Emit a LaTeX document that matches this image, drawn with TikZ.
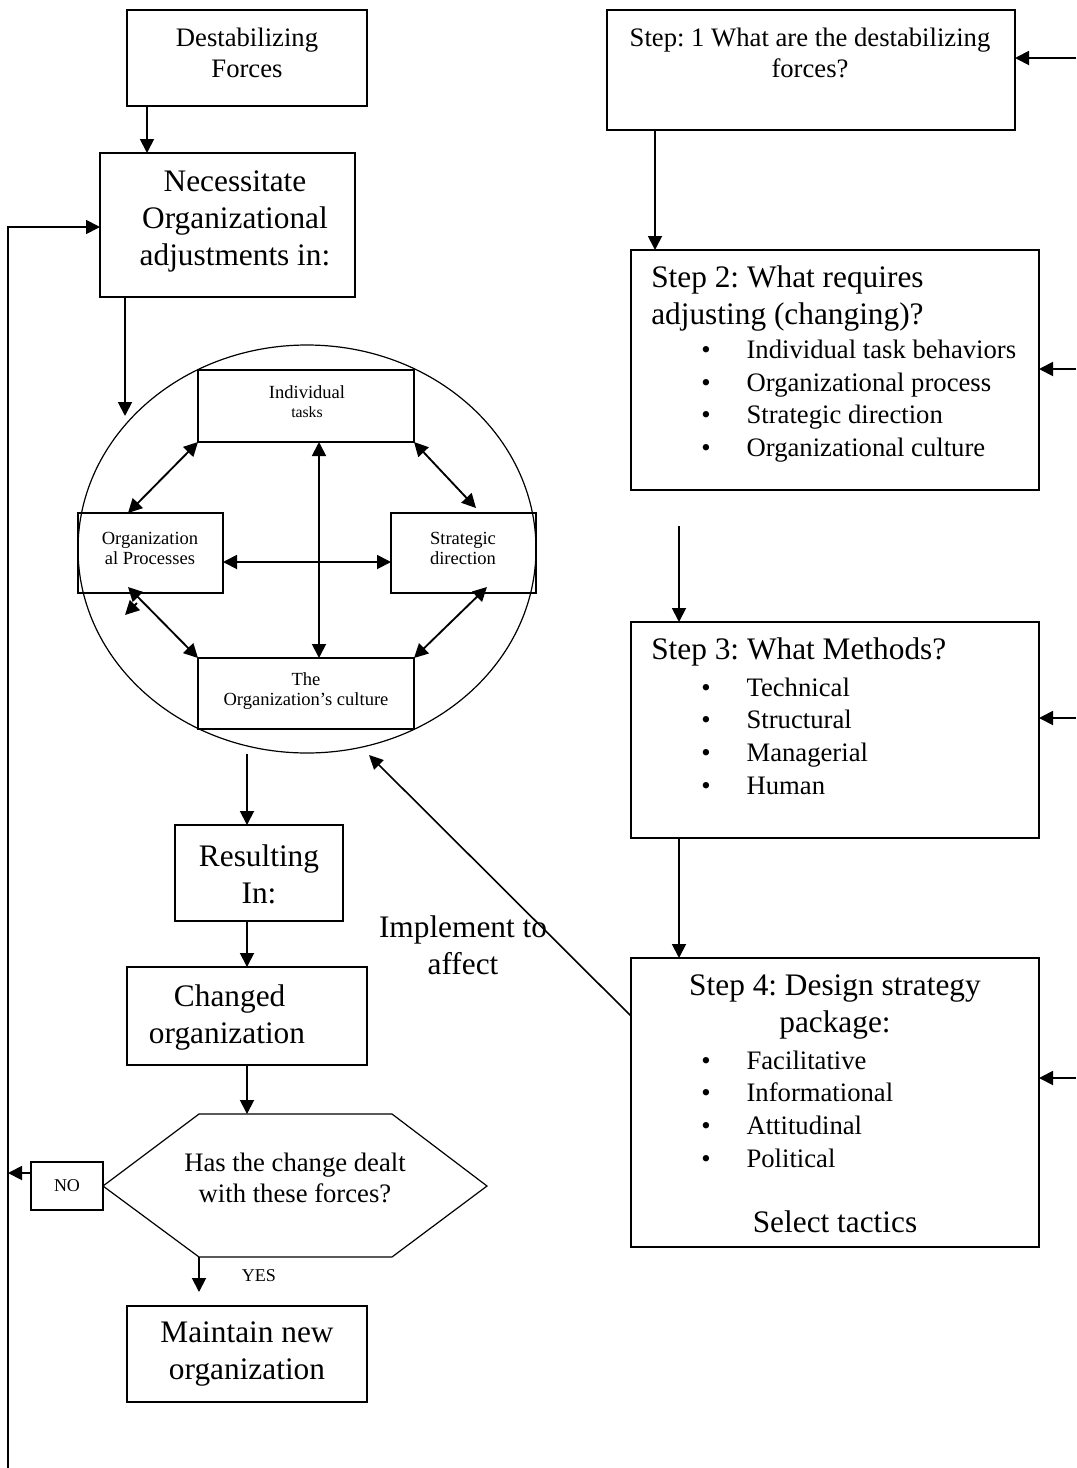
\documentclass[tikz,border=0pt]{standalone}
\usepackage{fontspec}
\setmainfont{Liberation Serif}
\usetikzlibrary{arrows.meta,calc,shapes.geometric}
\frenchspacing

\newcommand\fM{\fontsize{20}{23.25}\selectfont}
\newcommand\fL{\fontsize{23.5}{27.75}\selectfont}
\newcommand\fB{\fontsize{20}{24.5}\selectfont}
\newcommand\fS{\fontsize{13.9}{15}\selectfont}
\newcommand\fT{\fontsize{11.8}{13}\selectfont}
\newcommand\fX{\fontsize{13.5}{15}\selectfont}
\newcommand\bul{\makebox[34pt][l]{\textbullet}}

\tikzset{
  box/.style={draw, line width=1.3pt, inner sep=0pt, outer sep=0pt},
  ibox/.style={draw, line width=1.1pt, inner sep=0pt, outer sep=0pt},
  arr/.style={line width=1.4pt, -{Triangle[length=10.5pt,width=10.5pt]}},
  tarr/.style={line width=1.2pt, -{Triangle[length=10.5pt,width=10pt]}},
  darr/.style={line width=1.4pt, {Triangle[length=10.5pt,width=10.5pt]}-{Triangle[length=10.5pt,width=10.5pt]}},
  txt/.style={inner sep=0pt, align=center},
  ltxt/.style={inner sep=0pt, align=left, anchor=west},
}
\newcommand\mkbox[6][box]{\node[#1, minimum width={(#5-#3)*0.75pt}, minimum height={(#6-#4)*0.75pt}] (#2) at ({(#3+#5)/2},{(#4+#6)/2}) {};}

\begin{document}
\begin{tikzpicture}[x=0.75pt,y=-0.75pt]
\useasboundingbox[fill=white] (0,0) rectangle (1076,1468);

% ---------- left column ----------
\mkbox{destab}{127}{10}{367}{106}
\node[txt,font=\fM] (destabT) at (247,53) {Destabilizing\\Forces};

\mkbox{necess}{100}{153}{355}{297}
\node[txt,font=\fL] (necessT) at (235,221) {Necessitate\\Organizational\\adjustments in:};

\node[draw, ellipse, line width=0.9pt, inner sep=0pt, minimum width={458*0.75pt}, minimum height={408*0.75pt}] (circ) at (307,549) {};

\mkbox[ibox]{indiv}{198}{370}{414}{442}
\node[txt,font=\fS] (indivT1) at (307,392) {Individual};
\node[txt,font=\fT] (indivT2) at (307,412) {tasks};
\mkbox[ibox]{proc}{78}{513}{223}{593}
\node[txt,font=\fS] (procT) at (150,548) {Organization\\al Processes};
\mkbox[ibox]{strat}{391}{513}{536}{593}
\node[txt,font=\fS] (stratT) at (463,548) {Strategic\\direction};
\mkbox[ibox]{cult}{198}{658}{414}{729}
\node[txt,font=\fS] (cultT) at (306,691) {The\\Organization’s culture};

\draw[darr] ($(indiv.south)+(13,0)$) -- ($(cult.north)+(13,0)$);
\draw[darr] ($(proc.east)+(0,9)$) -- ($(strat.west)+(0,9)$);
\draw[darr] (indiv.south west) -- ($(proc.north west)+(50,0)$);
\draw[darr] (indiv.south east) -- ($(strat.north west)+(85,-5)$);
\draw[darr] ($(proc.south west)+(50,-6)$) -- (cult.north west);
\draw[darr] ($(strat.south west)+(96,-6)$) -- (cult.north east);
\coordinate (strayA) at (137,603);
\coordinate (strayB) at (125,615);
\draw[arr] (strayA) -- (strayB);

\draw[arr] ($(destab.south west)+(20,0)$) -- ($(necess.north west)+(47,0)$);
\coordinate (circIn) at (125,416);
\draw[arr] (necess.south west -| circIn) -- (circIn);

\mkbox{result}{175}{825}{343}{921}
\node[txt,font=\fL] (resultT) at (259,874) {Resulting\\In:};
\coordinate (rIn) at ($(result.north)+(-12,0)$);
\draw[arr] (rIn |- circ.south) -- (rIn);

\mkbox{changed}{127}{967}{367}{1065}
\node[txt,font=\fL] (changedT) at (227,1017) {\hspace*{4pt}Changed\\organization};
\draw[arr] (rIn |- result.south) -- (changed.north);

% hexagon
\coordinate (hTL) at (199,1114);
\coordinate (hTR) at (392,1114);
\coordinate (hR) at (487,1186);
\coordinate (hBR) at (392,1257);
\coordinate (hBL) at (199,1257);
\coordinate (hL) at (103,1186);
\draw[line width=0.9pt] (hTL) -- (hTR) -- (hR) -- (hBR) -- (hBL) -- (hL) -- cycle;
\node[txt,font=\fM] (hexT) at (295,1178) {Has the change dealt\\with these forces?};
\draw[arr] (changed.south) -- (changed.south |- hTL);

\mkbox{nobox}{31}{1162}{103}{1210}
\node[txt,font=\fX] (noT) at (nobox.center) {NO};

\coordinate (yesEnd) at (199,1292);
\draw[arr] (hBL) -- (yesEnd);
\node[txt,font=\fX] (yesT) at (259,1276) {YES};

\mkbox{maintain}{127}{1306}{367}{1402}
\node[txt,font=\fL] (maintainT) at (247,1354) {Maintain new\\organization};

% loop line
\coordinate (loopB) at (8,1468);
\draw[arr] (loopB) |- ($(necess.north west)+(0,74)$);
\coordinate (noA) at ($(nobox.north west)+(0,11)$);
\draw[arr] (noA) -- (noA -| loopB);

% ---------- right column ----------
\mkbox{step1}{607}{10}{1015}{130}
\node[txt,font=\fM] (step1T) at (810,53) {Step: 1 What are the destabilizing\\forces?};

\mkbox{step2}{631}{250}{1039}{490}
\node[ltxt,font=\fL] (step2T) at (651,299) {Step 2: What requires\\adjusting (changing)?};
\node[ltxt,font=\fB] (step2L) at (701,401) {\bul Individual task behaviors\\\bul Organizational process\\\bul Strategic direction\\\bul Organizational culture};

\mkbox{step3}{631}{622}{1039}{838}
\node[ltxt,font=\fL] (step3T) at (651,652) {Step 3: What Methods?};
\node[ltxt,font=\fB] (step3L) at (701,736) {\bul Technical\\\bul Structural\\\bul Managerial\\\bul Human};

\mkbox{step4}{631}{958}{1039}{1247}
\node[txt,font=\fL] (step4T) at (835,1007) {Step 4: Design strategy\\package:};
\node[ltxt,font=\fB] (step4L) at (701,1109) {\bul Facilitative\\\bul Informational\\\bul Attitudinal\\\bul Political};
\node[txt,font=\fL] (step4S) at (835,1222) {Select tactics};

\draw[arr] ($(step1.south west)+(48,0)$) -- ($(step2.north west)+(24,0)$);
\coordinate (s3in) at (679,526);
\draw[arr] (s3in) -- (s3in |- step3.north);
\draw[arr] ($(step3.south west)+(48,0)$) -- ($(step4.north west)+(48,0)$);

\coordinate (r1) at (1076,58);
\coordinate (r2) at (1076,369);
\coordinate (r3) at (1076,718);
\coordinate (r4) at (1076,1078);
\draw[arr] (r1) -- (r1 -| step1.east);
\draw[arr] (r2) -- (r2 -| step2.east);
\draw[arr] (r3) -- (r3 -| step3.east);
\draw[arr] (r4) -- (r4 -| step4.east);

% implement arrow
\coordinate (circIm) at (369,755);
\draw[tarr] ($(step4.north west)+(0,58)$) -- (circIm);
\node[txt,font=\fL] (implT) at (463,945) {Implement to\\affect};
\end{tikzpicture}
\end{document}
